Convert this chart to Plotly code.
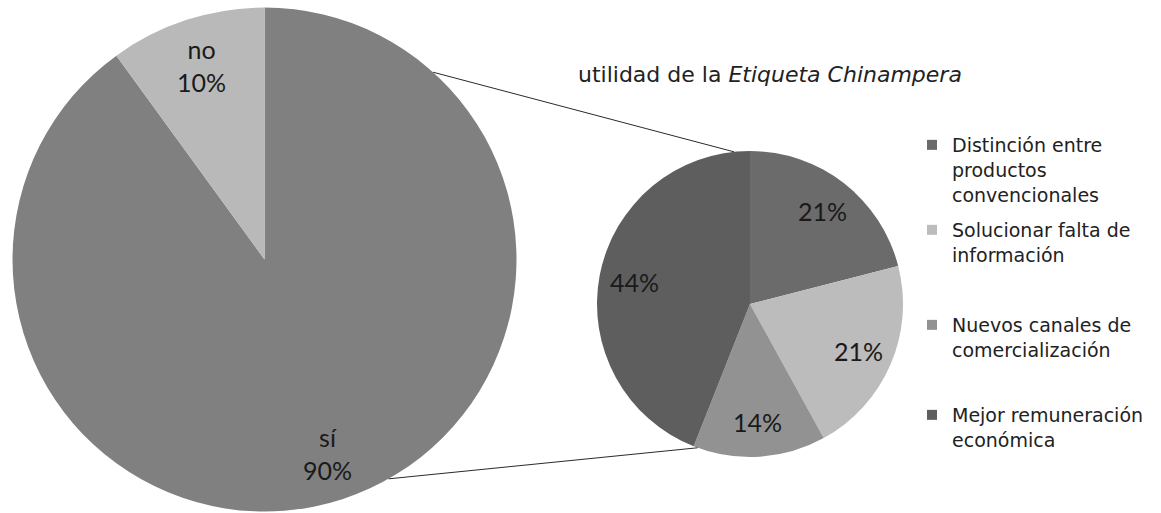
import math
import plotly.graph_objects as go

W, H = 1161, 513

# ---- data ----
main_labels = ["sí", "no"]
main_values = [90, 10]
main_colors = ["#808080", "#b9b9b9"]

sub_title = "utilidad de la <i>Etiqueta Chinampera</i>"
sub_labels = [
    "Distinción entre<br>productos<br>convencionales",
    "Solucionar falta de<br>información",
    "Nuevos canales de<br>comercialización",
    "Mejor remuneración<br>económica",
]
sub_values = [21, 21, 14, 44]
sub_colors = ["#6b6b6b", "#bcbcbc", "#929292", "#5e5e5e"]

# ---- layout geometry (pixels) ----
BIG = dict(cx=264.5, cy=259.5, r=252, label_frac=0.81)
SMALL = dict(cx=750, cy=304, r=153, label_frac=0.77)
# connector line end angles (deg clockwise from 12 o'clock)
CONNECT = [(42, 354), (150.5, 200)]
LEGEND_LINE_Y = [145, 230, 325, 415]
LEGEND_TEXT_X = 952
TITLE_X, TITLE_Y = 578, 74


def px(x):
    return x / W


def py(y):
    return 1 - y / H


def domain(c):
    return dict(x=[px(c["cx"] - c["r"]), px(c["cx"] + c["r"])],
                y=[py(c["cy"] + c["r"]), py(c["cy"] - c["r"])])


def point(c, ang, frac=1.0):
    a = math.radians(ang)
    return (c["cx"] + frac * c["r"] * math.sin(a),
            c["cy"] - frac * c["r"] * math.cos(a))


def label_positions(values, c):
    tot = sum(values)
    cum = 0
    out = []
    for v in values:
        mid = (cum + v / 2) / tot * 360
        cum += v
        out.append(point(c, mid, c["label_frac"]))
    return out


fig = go.Figure()

fig.add_trace(go.Pie(
    labels=main_labels, values=main_values, sort=False, direction="clockwise",
    rotation=0, marker=dict(colors=main_colors, line=dict(width=0)),
    textinfo="none", hoverinfo="label+percent", showlegend=False,
    domain=domain(BIG),
))
fig.add_trace(go.Pie(
    labels=sub_labels, values=sub_values, sort=False, direction="clockwise",
    rotation=0, marker=dict(colors=sub_colors, line=dict(width=0)),
    textinfo="none", hoverinfo="percent", showlegend=False,
    domain=domain(SMALL),
))

legend_names = ["legend", "legend2", "legend3", "legend4"]
for lab, col, lg in zip(sub_labels, sub_colors, legend_names):
    fig.add_trace(go.Scatter(
        x=[None], y=[None], mode="markers", name=lab, legend=lg,
        marker=dict(symbol="square", size=10, color=col),
        showlegend=True, hoverinfo="skip",
    ))

annotations = []
label_font = dict(family="Lato, Open Sans, sans-serif", size=25, color="#1a1a1a")
for lab, v, (x, y) in zip(main_labels, main_values, label_positions(main_values, BIG)):
    annotations.append(dict(x=px(x), y=py(y), xref="paper", yref="paper",
                            text=f"{lab}<br>{v}%", showarrow=False,
                            font=label_font, xanchor="center", yanchor="middle"))
for v, (x, y) in zip(sub_values, label_positions(sub_values, SMALL)):
    annotations.append(dict(x=px(x), y=py(y), xref="paper", yref="paper",
                            text=f"{v}%", showarrow=False,
                            font=label_font, xanchor="center", yanchor="middle"))

shapes = []
for a_big, a_small in CONNECT:
    x0, y0 = point(BIG, a_big)
    x1, y1 = point(SMALL, a_small)
    shapes.append(dict(type="line", xref="paper", yref="paper",
                       x0=px(x0), y0=py(y0), x1=px(x1), y1=py(y1),
                       line=dict(color="#2a2a2a", width=1)))

legend_font = dict(family="DejaVu Sans, sans-serif", size=19, color="#222222")
layout_legends = {}
for lg, ly in zip(legend_names, LEGEND_LINE_Y):
    layout_legends[lg] = dict(
        x=px(LEGEND_TEXT_X - 40), xanchor="left",
        y=py(ly - 19), yanchor="top",
        font=legend_font, valign="top", bgcolor="rgba(0,0,0,0)",
        borderwidth=0, itemwidth=30,
    )

fig.update_layout(
    width=W, height=H,
    margin=dict(l=0, r=0, t=0, b=0),
    paper_bgcolor="white", plot_bgcolor="white",
    title=dict(text=sub_title, x=px(TITLE_X), xanchor="left",
               y=py(TITLE_Y), yanchor="middle", xref="paper", yref="container",
               font=dict(family="DejaVu Sans, sans-serif", size=22, color="#222222")),
    xaxis=dict(visible=False), yaxis=dict(visible=False),
    annotations=annotations, shapes=shapes,
    **layout_legends,
)

fig.write_html("out.html")
